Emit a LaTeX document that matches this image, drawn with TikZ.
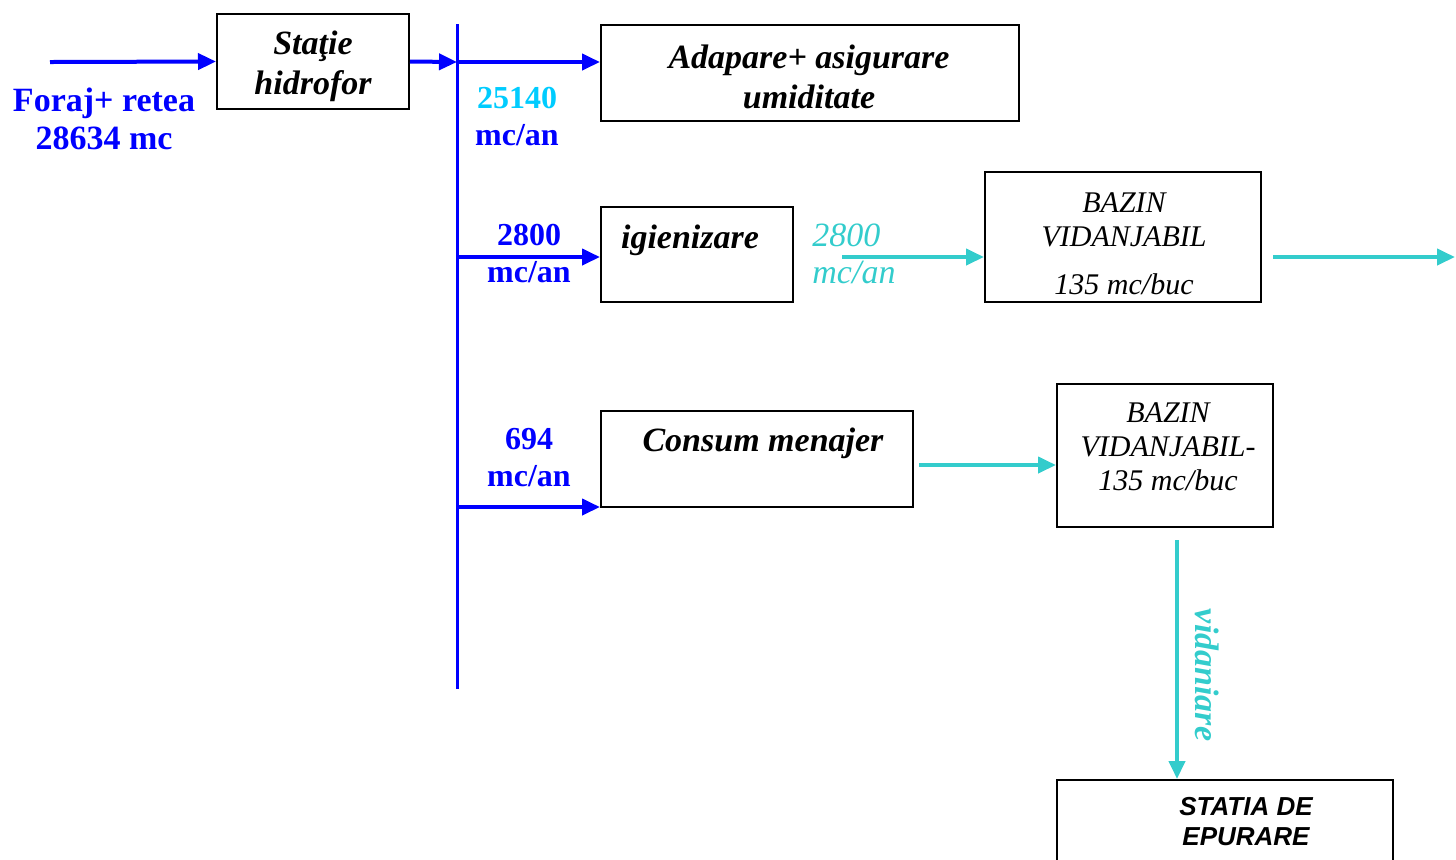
\documentclass[tikz,border=0pt]{standalone}
\usepackage{fontspec}
\setmainfont{Liberation Serif}
\setsansfont{Liberation Sans}
\usetikzlibrary{arrows.meta,fit}
\definecolor{FlowBlue}{HTML}{0000FF}
\definecolor{SkyCyan}{HTML}{00CCFF}
\definecolor{Teal}{HTML}{33CCCC}

\begin{document}
\begin{tikzpicture}[x=0.5pt,y=-0.5pt,
  ubox/.style={draw=black,line width=1pt,inner sep=0pt},
  btxt/.style={font=\fontsize{17}{20}\selectfont\bfseries\itshape,align=center,inner sep=0pt},
  vtxt/.style={font=\fontsize{15}{17}\selectfont\itshape,align=center,inner sep=0pt},
  qty/.style={font=\fontsize{16}{18.5}\selectfont\bfseries,align=center,text=FlowBlue,inner sep=0pt},
  warr/.style={-{Triangle[length=9pt,width=8pt]},line width=2pt,draw=FlowBlue},
  carr/.style={warr,draw=Teal}
]
  \useasboundingbox (0,0) rectangle (1456,859);

  % boxes
  \node[ubox,fit={(217,14) (409,109)}] (hidro) {};
  \node[ubox,fit={(601,25) (1019,121)}] (adapare) {};
  \node[ubox,fit={(601,207) (793,302)}] (igien) {};
  \node[ubox,fit={(985,172) (1261,302)}] (bazin1) {};
  \node[ubox,fit={(601,411) (913,507)}] (consum) {};
  \node[ubox,fit={(1057,384) (1273,527)}] (bazin2) {};
  \node[ubox,fit={(1057,780) (1393,880)}] (statia) {};

  % box texts
  \node[btxt] (hidroTxt) at (313,66) {Staţie\\hidrofor};
  \node[btxt] (adapTxt) at (809,77) {Adapare+ asigurare\\umiditate};
  \node[btxt] (igienTxt) at (690,240) {igienizare};
  \node[btxt] (consumTxt) at (763,443) {Consum menajer};
  \node[vtxt] (bazin1Txt) at (1124,244) {BAZIN\\VIDANJABIL\\[7pt]135 mc/buc};
  \node[vtxt] (bazin2Txt) at (1168,447) {BAZIN\\VIDANJABIL-\\135 mc/buc};
  \node[font=\fontsize{13}{15}\selectfont\sffamily\bfseries\itshape,align=center,inner sep=0pt]
    (statiaTxt) at (1246,822) {STATIA DE\\EPURARE};

  % flow labels
  \node[qty,font=\fontsize{17}{19}\selectfont\bfseries] (forajTxt) at (104,119) {Foraj+ retea\\28634 mc};
  \node[qty] (q1) at (517,117) {\textcolor{SkyCyan}{25140}\\mc/an};
  \node[qty] (q2) at (529,254) {2800\\mc/an};
  \node[qty] (q3) at (529,458) {694\\mc/an};
  \node[font=\fontsize{17}{18.5}\selectfont\itshape,text=Teal,align=left,inner sep=0pt,anchor=west]
    (q4) at (812,254) {2800\\mc/an};
  \node[btxt,text=Teal,rotate=-90] (vidTxt) at (1207,675) {vidaniare};

  % blue supply lines
  \coordinate (src) at (50,62);
  \coordinate (t0) at (457,24);
  \coordinate (t1) at (457,62);
  \coordinate (t2) at (457,257);
  \coordinate (t3) at (457,507);
  \coordinate (tEnd) at (457,689);
  \draw[warr] (src) -- (hidro.west);
  \draw[warr] (hidro.east) -- (t1);
  \draw[FlowBlue,line width=1.5pt] (t0) -- (tEnd);
  \draw[warr] (t1) -- (t1 -| adapare.west);
  \draw[warr] (t2) -- (t2 -| igien.west);
  \draw[warr] (t3) -- (t3 -| consum.west);

  % waste water lines
  \coordinate (c1) at (842,257);
  \coordinate (c2) at (1273,257);
  \coordinate (c2e) at (1455,257);
  \coordinate (c3) at (919,465);
  \coordinate (c4) at (1177,540);
  \draw[carr] (c1) -- (c1 -| bazin1.west);
  \draw[carr] (c2) -- (c2e);
  \draw[carr] (c3) -- (c3 -| bazin2.west);
  \draw[carr] (c4) -- (c4 |- statia.north);
\end{tikzpicture}
\end{document}
